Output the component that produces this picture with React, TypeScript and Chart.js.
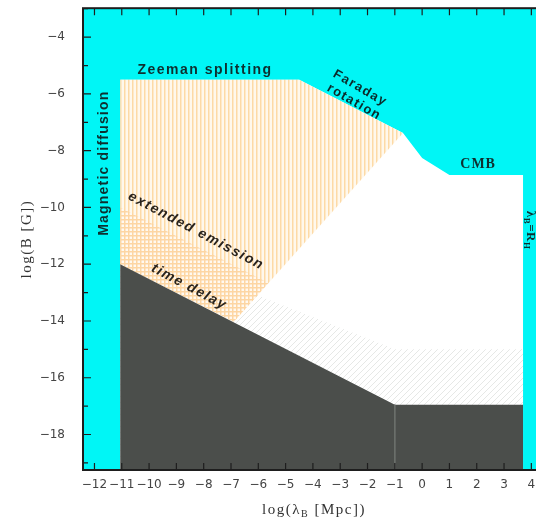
import React, { useEffect, useRef } from "react";
import { Chart, registerables } from "chart.js";

Chart.register(...registerables);

// ---- axes ----
const X_MIN = -12.42;
const X_MAX = 4.5;
const Y_MIN = -19.25;
const Y_MAX = -2.98;
const xTickValues = [-12, -11, -10, -9, -8, -7, -6, -5, -4, -3, -2, -1, 0, 1, 2, 3, 4];
const yTickValues = [-19, -18, -17, -16, -15, -14, -13, -12, -11, -10, -9, -8, -7, -6, -5, -4, -3];
const yLabelledTicks = [-18, -16, -14, -12, -10, -8, -6, -4];

// ---- region boundaries (log lambda [Mpc], log B [G]) ----
const excludedX = [X_MIN, X_MAX];
const excludedY = [Y_MAX, Y_MAX];

const allowedX = [-11.06, -4.5, -0.7, 0, 1, 3.7];
const allowedY = [-5.5, -5.5, -7.38, -8.26, -8.86, -8.86];

const faintX = [-11.06, -1, 3.7];
const faintY = [-11.2, -15.0, -15.0];

const zeemanUpperX = [-11.06, -4.5, -0.7];
const zeemanUpperY = [-5.5, -5.5, -7.38];
const zeemanLowerX = [-11.06, -6.9, -0.7];
const zeemanLowerY = [-12.0, -14.03, -7.38];

const emissionUpperX = [-11.06, -5.63];
const emissionUpperY = [-10.0, -12.66];
const emissionLowerX = [-11.06, -6.9, -5.63];
const emissionLowerY = [-12.0, -14.03, -12.66];

const delayX = [-11.06, -1, 3.7];
const delayY = [-12.0, -16.95, -16.95];

const dividerX = [-1, -1];
const dividerY = [-16.95, Y_MIN];

// ---- annotations ----
const noteTexts = [
  "Zeeman splitting",
  "Magnetic diffusion",
  "Faraday",
  "rotation",
  "CMB",
  "λ_B=R_H",
  "extended emission",
  "time delay",
];
const noteX = [-7.95, -11.65, -2.27, -2.49, 2.05, 3.96, -8.28, -8.53];
const noteY = [-5.16, -8.44, -5.8, -6.29, -8.47, -10.8, -10.83, -12.8];
const noteAngle = [0, -90, 30, 30, 0, 90, 28, 28];

const noteFont = [
  'bold 14px "Liberation Sans"',
  'bold 14px "Liberation Sans"',
  'bold 13px "Liberation Sans"',
  'bold 13px "Liberation Sans"',
  'bold 14px "Liberation Serif"',
  'bold 13px "Liberation Serif"',
  'italic bold 14px "Liberation Sans"',
  'italic bold 14px "Liberation Sans"',
];
const noteSpacing = ["1.5px", "1.2px", "1.5px", "1.5px", "1px", "0.5px", "1.5px", "1.5px"];
const noteColor = ["#0e2f2f", "#0e2f2f", "#0b2a2a", "#0b2a2a", "#0e2f2f", "#0e2f2f", "#2a241e", "#2a241e"];

const xTitle = "log(λ_B [Mpc])";
const yTitle = "log(B [G])";

const pts = (xs: number[], ys: number[]) => xs.map((x, i) => ({ x, y: ys[i] }));

const fmt = (v: number) => (v < 0 ? "−" + Math.abs(v) : String(v));

function makePattern(kind: string): CanvasPattern | string {
  const c = document.createElement("canvas");
  const g = c.getContext("2d");
  if (!g) return "#fff";
  if (kind === "vert") {
    c.width = 4;
    c.height = 4;
    g.fillStyle = "#fff8ec";
    g.fillRect(0, 0, 4, 4);
    g.fillStyle = "#fddaa6";
    g.fillRect(0, 0, 1.5, 4);
  } else if (kind === "grid") {
    c.width = 4;
    c.height = 4;
    g.fillStyle = "#fff9f0";
    g.fillRect(0, 0, 4, 4);
    g.fillStyle = "#fdd6a3";
    g.fillRect(0, 0, 1.5, 4);
    g.fillRect(0, 0, 4, 1.5);
  } else {
    c.width = 6;
    c.height = 6;
    g.fillStyle = "#ffffff";
    g.fillRect(0, 0, 6, 6);
    g.strokeStyle = "#e6e8e6";
    g.lineWidth = 1;
    g.beginPath();
    g.moveTo(-1, 7);
    g.lineTo(7, -1);
    g.moveTo(-1, 1);
    g.lineTo(1, -1);
    g.moveTo(5, 7);
    g.lineTo(7, 5);
    g.stroke();
  }
  return g.createPattern(c, "repeat") || "#fff";
}

function parseSub(text: string) {
  const parts: { t: string; sub: boolean }[] = [];
  let buf = "";
  for (let i = 0; i < text.length; i++) {
    if (text[i] === "_" && i + 1 < text.length) {
      if (buf) parts.push({ t: buf, sub: false });
      buf = "";
      parts.push({ t: text[i + 1], sub: true });
      i++;
    } else buf += text[i];
  }
  if (buf) parts.push({ t: buf, sub: false });
  return parts;
}

function drawRich(ctx: CanvasRenderingContext2D, text: string, font: string, subFont: string) {
  const parts = parseSub(text);
  let total = 0;
  const widths = parts.map((p) => {
    ctx.font = p.sub ? subFont : font;
    const w = ctx.measureText(p.t).width;
    total += w;
    return w;
  });
  let x = -total / 2;
  ctx.textAlign = "left";
  ctx.textBaseline = "middle";
  parts.forEach((p, i) => {
    ctx.font = p.sub ? subFont : font;
    ctx.fillText(p.t, x, p.sub ? 4 : 0);
    x += widths[i];
  });
}

const decor = {
  id: "decor",
  afterDatasetsDraw(chart: any) {
    const { ctx, chartArea: a, scales } = chart;
    const xs = scales.x;
    const ys = scales.y;
    ctx.save();
    // annotations
    noteTexts.forEach((t, i) => {
      ctx.save();
      ctx.translate(xs.getPixelForValue(noteX[i]), ys.getPixelForValue(noteY[i]));
      ctx.rotate((noteAngle[i] * Math.PI) / 180);
      ctx.fillStyle = noteColor[i];
      (ctx as any).letterSpacing = noteSpacing[i];
      const m = /(\d+)px/.exec(noteFont[i]);
      const size = m ? parseInt(m[1], 10) : 12;
      drawRich(ctx, t, noteFont[i], noteFont[i].replace(/\d+px/, Math.round(size * 0.7) + "px"));
      ctx.restore();
    });
    // frame
    ctx.strokeStyle = "#1e1e1e";
    ctx.lineWidth = 2;
    ctx.strokeRect(a.left, a.top, a.right - a.left, a.bottom - a.top);
    // inward ticks
    ctx.lineWidth = 1.2;
    ctx.beginPath();
    xTickValues.forEach((v) => {
      const px = xs.getPixelForValue(v);
      ctx.moveTo(px, a.bottom);
      ctx.lineTo(px, a.bottom - 7);
      ctx.moveTo(px, a.top);
      ctx.lineTo(px, a.top + 7);
    });
    yTickValues.forEach((v) => {
      const py = ys.getPixelForValue(v);
      const len = v % 2 === 0 ? 8 : 5;
      ctx.moveTo(a.left, py);
      ctx.lineTo(a.left + len, py);
    });
    ctx.stroke();
    ctx.restore();
  },
  afterDraw(chart: any) {
    const { ctx, chartArea: a } = chart;
    ctx.save();
    ctx.fillStyle = "#333";
    (ctx as any).letterSpacing = "1.5px";
    // y title
    ctx.save();
    ctx.translate(27, (a.top + a.bottom) / 2);
    ctx.rotate(-Math.PI / 2);
    drawRich(ctx, yTitle, '15px "Liberation Serif"', '10px "Liberation Serif"');
    ctx.restore();
    // x title
    ctx.save();
    ctx.translate((a.left + a.right) / 2, a.bottom + 40);
    drawRich(ctx, xTitle, '15px "Liberation Serif"', '10px "Liberation Serif"');
    ctx.restore();
    ctx.restore();
  },
};

const CANVAS_W = 560;
const CANVAS_H = 539;
const CANVAS_SHIFT = -17;

export default function App() {
  const ref = useRef<HTMLCanvasElement | null>(null);
  useEffect(() => {
    if (!ref.current) return;
    const vert = makePattern("vert");
    const grid = makePattern("grid");
    const diag = makePattern("diag");
    const base = { pointRadius: 0, borderWidth: 0, tension: 0, showLine: true };
    const chart = new Chart(ref.current, {
      type: "line",
      data: {
        datasets: [
          { ...base, label: "divider", data: pts(dividerX, dividerY), borderWidth: 1, borderColor: "#6d706d", fill: false, order: 0 },
          { ...base, label: "time delay", data: pts(delayX, delayY), backgroundColor: "#4b4e4b", borderColor: "#4b4e4b", fill: "start", order: 1 },
          { ...base, label: "extended emission", data: pts(emissionUpperX, emissionUpperY), backgroundColor: grid, fill: "+1", order: 2 },
          { ...base, label: "extended emission lower", data: pts(emissionLowerX, emissionLowerY), fill: false, order: 2 },
          { ...base, label: "Zeeman", data: pts(zeemanUpperX, zeemanUpperY), backgroundColor: vert, fill: "+1", order: 3 },
          { ...base, label: "Zeeman lower", data: pts(zeemanLowerX, zeemanLowerY), fill: false, order: 3 },
          { ...base, label: "faint", data: pts(faintX, faintY), backgroundColor: diag, fill: "start", order: 4 },
          { ...base, label: "allowed", data: pts(allowedX, allowedY), backgroundColor: "#ffffff", fill: "start", order: 5 },
          { ...base, label: "excluded", data: pts(excludedX, excludedY), backgroundColor: "#00f6f6", fill: "start", order: 6 },
        ] as any,
      },
      options: {
        animation: false,
        responsive: false,
        devicePixelRatio: 1,
        layout: { padding: { left: 0, top: 8, right: 15, bottom: 0 } },
        plugins: { legend: { display: false }, tooltip: { enabled: false }, title: { display: false } },
        scales: {
          x: {
            type: "linear",
            min: X_MIN,
            max: X_MAX,
            grid: { display: false, drawTicks: false },
            border: { display: false },
            afterBuildTicks: (s: any) => {
              s.ticks = xTickValues.map((v) => ({ value: v }));
            },
            afterFit: (s: any) => {
              s.height = 52;
            },
            ticks: {
              autoSkip: false,
              maxRotation: 0,
              padding: 8,
              color: "#444",
              font: { family: '"DejaVu Sans"', size: 12 },
              callback: (v: any) => fmt(Number(v)),
            },
          },
          y: {
            type: "linear",
            min: Y_MIN,
            max: Y_MAX,
            grid: { display: false, drawTicks: false },
            border: { display: false },
            afterBuildTicks: (s: any) => {
              s.ticks = yLabelledTicks.map((v) => ({ value: v }));
            },
            afterFit: (s: any) => {
              s.width = 83;
            },
            ticks: {
              autoSkip: false,
              padding: 18,
              color: "#444",
              font: { family: '"DejaVu Sans"', size: 12 },
              callback: (v: any) => fmt(Number(v)),
            },
          },
        },
      } as any,
      plugins: [decor],
    });
    return () => chart.destroy();
  }, []);
  return (
    <div style={{ position: "absolute", left: 0, top: 0, width: 536, height: 522, overflow: "hidden", background: "#fff" }}>
      <canvas
        ref={ref}
        width={CANVAS_W}
        height={CANVAS_H}
        style={{ position: "absolute", left: 0, top: CANVAS_SHIFT, width: CANVAS_W, height: CANVAS_H, display: "block" }}
      />
    </div>
  );
}
